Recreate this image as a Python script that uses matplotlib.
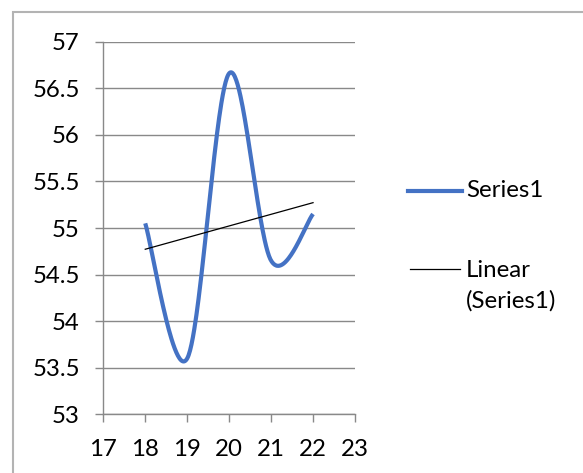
import matplotlib.pyplot as plt
from matplotlib.lines import Line2D
from matplotlib.patches import Rectangle
import numpy as np

x_vals = [18, 19, 20, 21, 22]
y_vals = [55.05, 53.6, 56.66, 54.65, 55.15]
series_name = "Series1"
trend_name = "Linear\n(Series1)"
x_ticks = [17, 18, 19, 20, 21, 22, 23]
y_ticks = [53, 53.5, 54, 54.5, 55, 55.5, 56, 56.5, 57]

blue = "#4472C4"
grid_gray = "#898989"
fs = 17.3

plt.rcParams['font.family'] = ['Lato', 'DejaVu Sans']


def smooth_curve(xs, ys, n=60):
    # cubic bezier through the points, control points from neighbours (tension 1/6)
    pts = np.column_stack([xs, ys]).astype(float)
    ext = np.vstack([pts[0], pts, pts[-1]])
    out = []
    t = np.linspace(0, 1, n)[:, None]
    for i in range(len(pts) - 1):
        p0, p3 = ext[i + 1], ext[i + 2]
        c1 = p0 + (ext[i + 2] - ext[i]) / 6
        c2 = p3 - (ext[i + 3] - ext[i + 1]) / 6
        seg = (1 - t) ** 3 * p0 + 3 * (1 - t) ** 2 * t * c1 + 3 * (1 - t) * t ** 2 * c2 + t ** 3 * p3
        out.append(seg if i == 0 else seg[1:])
    out = np.vstack(out)
    return out[:, 0], out[:, 1]


fig = plt.figure(figsize=(5.83, 4.73), dpi=100)
ax = fig.add_axes([103.3 / 583, 1 - 414.3 / 473, (355 - 103.3) / 583, (414.3 - 41.7) / 473])

# chart area outline
fig.patches.append(Rectangle((13 / 583, -0.1), 1.2, 1 - 12 / 473 + 0.1, transform=fig.transFigure,
                             fill=False, edgecolor="#b3b3b3", linewidth=1.5))

sx, sy = smooth_curve(x_vals, y_vals)
ax.plot(sx, sy, color=blue, linewidth=3.0, solid_capstyle="butt", zorder=3)

slope, intercept = np.polyfit(x_vals, y_vals, 1)
tx = np.array([x_vals[0], x_vals[-1]])
ax.plot(tx, slope * tx + intercept, color="black", linewidth=0.9, zorder=4)

ax.set_xlim(17, 23)
ax.set_ylim(53, 57)
ax.set_xticks(x_ticks)
ax.set_yticks(y_ticks)
ax.set_yticklabels([f"{v:g}" for v in y_ticks])
ax.grid(axis="y", color=grid_gray, linewidth=1.0, zorder=0)
ax.set_axisbelow(True)
for side in ["top", "right"]:
    ax.spines[side].set_visible(False)
for side in ["left", "bottom"]:
    ax.spines[side].set_color(grid_gray)
    ax.spines[side].set_linewidth(1.0)
ax.tick_params(axis="both", direction="out", length=6, width=1.0, color=grid_gray,
               labelsize=fs, labelcolor="black")
ax.tick_params(axis="y", pad=11)
ax.tick_params(axis="x", pad=11.5)

# legend
fig.add_artist(Line2D([408 / 583, 462 / 583], [1 - 190.7 / 473] * 2, color=blue, linewidth=3.0,
                      transform=fig.transFigure))
fig.text(466 / 583, 1 - 190.7 / 473, series_name, fontsize=fs, va="center", ha="left")
fig.add_artist(Line2D([410 / 583, 460 / 583], [1 - 269 / 473] * 2, color="black", linewidth=0.9,
                      transform=fig.transFigure))
fig.text(466 / 583, 1 - 270 / 473, trend_name.split("\n")[0], fontsize=fs, va="center", ha="left")
fig.text(466 / 583, 1 - 301 / 473, trend_name.split("\n")[1], fontsize=fs, va="center", ha="left")

fig.savefig("out.png", dpi=100)
